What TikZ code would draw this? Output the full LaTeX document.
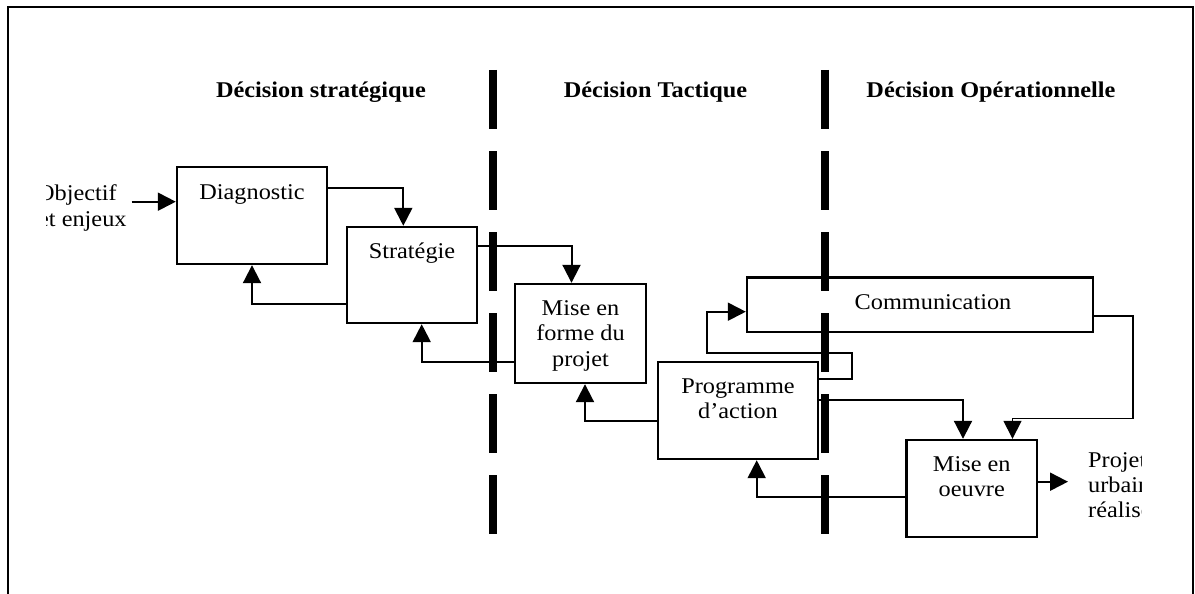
\documentclass[tikz,border=0pt]{standalone}
\usepackage{fontspec}
\setmainfont{Liberation Serif}[FakeStretch=1.08]
\usetikzlibrary{arrows.meta}

\tikzset{
  box/.style={draw, line width=2.4pt, inner sep=0pt, rectangle},
  txt/.style={inner sep=0pt, anchor=base, font=\fontsize{22.5}{25.5}\selectfont},
  head/.style={inner sep=0pt, anchor=base, font=\fontsize{22.5}{26}\selectfont\bfseries},
  conn/.style={line width=2pt, -{Triangle[length=18pt,width=18pt]}},
  divider/.style={line width=8pt, dash pattern=on 59pt off 22pt},
  frame/.style={line width=2pt}
}

\begin{document}
\begin{tikzpicture}[x=1pt,y=-1pt]
\useasboundingbox (0,0) rectangle (1195,594);

% outer frame (open at the bottom)
\draw[frame] (7.5,594) |- (1192.5,7.5) -- (1192.5,594);

% column headings
\node[head] (h1) at (321,97) {Décision stratégique};
\node[head] (h2) at (655.5,97) {Décision Tactique};
\node[head] (h3) at (991,97) {Décision Opérationnelle};

% decision level separators
\draw[divider] (493,70) -- (493,540);
\draw[divider] (824.5,70) -- (824.5,540);

% boxes
\node[box, minimum width=150pt, minimum height=97pt] (diag) at (252,215.5) {};
\node[box, minimum width=130pt, minimum height=96pt] (strat) at (412,275) {};
\node[box, minimum width=131pt, minimum height=99pt] (forme) at (580.5,333.5) {};
\node[box, minimum width=160pt, minimum height=97pt] (prog) at (738,410.5) {};
\node[box, minimum width=346pt, minimum height=54.4pt] (comm) at (920,304.5) {};
\node[box, minimum width=130.5pt, minimum height=96.7pt] (oeuvre) at (971.75,488.35) {};

% box labels
\node[txt] (diagT) at (252,199) {Diagnostic};
\node[txt] (stratT) at (412,258) {Stratégie};
\node[txt] (formeA) at (580.5,315) {Mise en};
\node[txt] (formeB) at (580.5,340.5) {forme du};
\node[txt] (formeC) at (580.5,366) {projet};
\node[txt] (progA) at (738,393) {Programme};
\node[txt] (progB) at (738,418.5) {d’action};
\node[txt] (commT) at (933,309.5) {Communication};
\node[txt] (oeuvreA) at (971.75,471) {Mise en};
\node[txt] (oeuvreB) at (971.75,496.5) {oeuvre};

% input and output labels, cut by the page margin
\begin{scope}
  \clip (46,150) rectangle (170,260);
  \node[txt, anchor=base west] (objA) at (37,200.5) {Objectif};
  \node[txt, anchor=base west] (objB) at (38,226) {et enjeux};
\end{scope}
\begin{scope}
  \clip (1070,430) rectangle (1141,540);
  \node[txt, anchor=base west] (projA) at (1088,467) {Projet};
  \node[txt, anchor=base west] (projB) at (1088,492.5) {urbain};
  \node[txt, anchor=base west] (projC) at (1088,517.5) {réalisé};
\end{scope}

% free ends and bend points of connectors
\coordinate (objout) at (131.7,201.7);
\coordinate (loop) at (706.7,352.7);
\coordinate (cbend) at (1133,418.3);
\coordinate (outtip) at (1068,481.7);

% connectors
\draw[conn] (objout) -- (objout -| diag.west);
\draw[conn] ([yshift=27.8pt]diag.east) -| ([xshift=-8.7pt]strat.north);
\draw[conn] ([yshift=-29.3pt]strat.west) -| (diag.south);
\draw[conn] ([yshift=29.3pt]strat.east) -| ([xshift=-9pt]forme.north);
\draw[conn] ([yshift=-28.7pt]forme.west) -| ([xshift=9.7pt]strat.south);
\draw[conn] ([yshift=-10.2pt]prog.west) -| ([xshift=4.5pt]forme.south);
\draw[conn] ([yshift=31.2pt]prog.east) -| ++(33,-26.6) -- (loop) |- ([yshift=-7.2pt]comm.west);
\draw[conn] ([yshift=10.5pt]prog.east) -| ([xshift=-8.75pt]oeuvre.north);
\draw[conn, line width=1.6pt] ([yshift=-11.2pt]comm.east) -| (cbend) -| ([xshift=40.75pt]oeuvre.north);
\draw[conn] ([yshift=-9pt]oeuvre.west) -| ([xshift=18.7pt]prog.south);
\draw[conn] (oeuvre.east |- outtip) -- (outtip);
\end{tikzpicture}
\end{document}
